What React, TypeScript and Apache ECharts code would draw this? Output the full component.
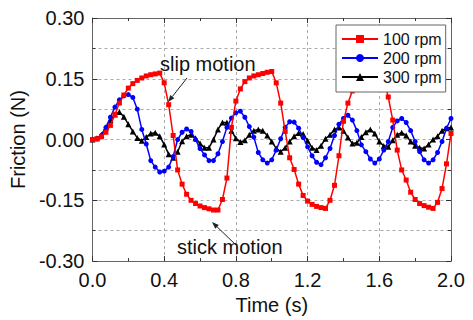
import React, { useEffect, useRef } from "react";
import * as echarts from "echarts";

const STEP = 0.025;
const SERIES_NAMES = ["100 rpm", "200 rpm", "300 rpm"];
const X_TICKS = ["0.0", "0.4", "0.8", "1.2", "1.6", "2.0"];
const Y_TICKS = ["-0.30", "-0.15", "0.00", "0.15", "0.30"];

const RPM100 = [
  0.0, 0.002, 0.007, 0.018, 0.035, 0.062, 0.09, 0.11, 0.127, 0.138, 0.146, 0.152, 0.157, 0.16, 0.162, 0.164,
  0.14, 0.086, 0.01, -0.075, -0.11, -0.135, -0.15, -0.158, -0.164, -0.168, -0.171, -0.174, -0.174, -0.148,
  -0.095, 0.03, 0.095, 0.125, 0.143, 0.152, 0.157, 0.16, 0.163, 0.166, 0.168, 0.14, 0.09, 0.02, -0.045,
  -0.074, -0.11, -0.138, -0.152, -0.16, -0.165, -0.168, -0.17, -0.15, -0.113, -0.04, 0.045, 0.09, 0.12,
  0.138, 0.148, 0.155, 0.16, 0.163, 0.166, 0.15, 0.105, 0.048, -0.026, -0.075, -0.1, -0.13, -0.148, -0.158,
  -0.163, -0.167, -0.17, -0.155, -0.121, -0.06, 0.015,
];
const RPM200 = [
  0.0, 0.002, 0.01, 0.03, 0.055, 0.08, 0.098, 0.108, 0.111, 0.104, 0.075, 0.025, -0.011, -0.052, -0.068,
  -0.08, -0.078, -0.068, -0.042, 0.0, 0.018, 0.026, 0.02, 0.0, -0.022, -0.038, -0.052, -0.052, -0.035,
  -0.005, 0.03, 0.053, 0.066, 0.07, 0.055, 0.032, 0.006, -0.032, -0.05, -0.058, -0.05, -0.026, 0.002, 0.03,
  0.044, 0.043, 0.028, 0.005, -0.018, -0.04, -0.056, -0.062, -0.045, -0.022, 0.01, 0.038, 0.052, 0.06,
  0.048, 0.022, -0.013, -0.03, -0.048, -0.058, -0.048, -0.026, -0.005, 0.03, 0.046, 0.052, 0.042, 0.022,
  -0.005, -0.03, -0.05, -0.058, -0.05, -0.032, -0.005, 0.028, 0.052,
];
const RPM300 = [
  0.0, 0.003, 0.012, 0.03, 0.048, 0.062, 0.068, 0.056, 0.038, 0.02, 0.004, -0.003, 0.006, 0.015, 0.017,
  0.008, -0.012, -0.036, -0.045, -0.03, -0.004, 0.008, 0.012, 0.003, -0.01, -0.02, -0.02, 0.0, 0.025, 0.042,
  0.042, 0.022, 0.003, -0.006, -0.002, 0.012, 0.022, 0.025, 0.022, 0.01, -0.005, -0.022, -0.03, -0.02,
  -0.005, 0.008, 0.016, 0.014, -0.003, -0.02, -0.026, -0.015, 0.002, 0.012, 0.025, 0.03, 0.022, 0.005,
  -0.01, -0.008, 0.006, 0.018, 0.025, 0.015, -0.005, -0.016, -0.018, -0.002, 0.012, 0.017, 0.01, -0.005,
  -0.015, -0.02, -0.022, -0.012, 0.0, 0.008, 0.022, 0.028, 0.03,
];

const COLORS = ["#ff0000", "#0000ff", "#000000"];
const SYMBOLS = ["rect", "circle", "triangle"];
const SYMBOL_SIZES = [5, 5, 6];

const pairs = (vals: number[]) => vals.map((v, i) => [+(i * STEP).toFixed(3), v]);

const FONT = "'Liberation Sans', Arial, sans-serif";
const AXIS_COLOR = "#666";
const TICK_COLOR = "#333";

export default function App() {
  const ref = useRef<HTMLDivElement>(null);
  useEffect(() => {
    if (!ref.current) return;
    const chart = echarts.init(ref.current, null, { renderer: "svg" });
    const data = [RPM100, RPM200, RPM300];
    const commonX = {
      type: "value",
      min: 0,
      max: 2.0,
      interval: 0.4,
      axisLine: { show: true, onZero: false, lineStyle: { color: AXIS_COLOR, width: 1 } },
      axisTick: { show: true, inside: true, length: 5, lineStyle: { color: TICK_COLOR } },
      minorTick: { show: true, splitNumber: 2, length: 3, lineStyle: { color: TICK_COLOR } },
    };
    const commonY = {
      type: "value",
      min: -0.3,
      max: 0.3,
      interval: 0.15,
      axisLine: { show: true, onZero: false, lineStyle: { color: AXIS_COLOR, width: 1 } },
      axisTick: { show: true, inside: true, length: 5, lineStyle: { color: TICK_COLOR } },
      minorTick: { show: true, splitNumber: 2, length: 3, lineStyle: { color: TICK_COLOR } },
    };
    const arrow = (x1: number, y1: number, x2: number, y2: number) => {
      const dx = x2 - x1, dy = y2 - y1;
      const L = Math.hypot(dx, dy);
      const ux = dx / L, uy = dy / L;
      const hl = 7, hw = 2.6;
      const bx = x2 - ux * hl, by = y2 - uy * hl;
      return [
        { type: "line", z: 20, shape: { x1, y1, x2: bx, y2: by }, style: { stroke: "#222", lineWidth: 1 } },
        {
          type: "polygon",
          z: 20,
          shape: { points: [[x2, y2], [bx - uy * hw, by + ux * hw], [bx + uy * hw, by - ux * hw]] },
          style: { fill: "#222" },
        },
      ];
    };
    chart.setOption({
      animation: false,
      textStyle: { fontFamily: FONT },
      grid: { left: 89, right: 22, top: 18, bottom: 47, containLabel: false },
      legend: {
        orient: "vertical",
        left: 336,
        top: 25,
        z: 10,
        padding: [6, 4, 7, 5],
        itemGap: 3,
        itemWidth: 36,
        itemHeight: 10,
        borderColor: "#666",
        borderWidth: 1,
        backgroundColor: "#fff",
        textStyle: { fontFamily: FONT, fontSize: 16, color: "#111" },
        data: SERIES_NAMES,
      },
      xAxis: [
        {
          ...commonX,
          position: "bottom",
          name: "Time (s)",
          nameLocation: "middle",
          nameGap: 22,
          nameTextStyle: { fontFamily: FONT, fontSize: 20, color: "#111" },
          axisLabel: {
            show: true,
            margin: 9,
            fontFamily: FONT,
            fontSize: 20,
            color: "#111",
            formatter: (v: number) => X_TICKS.find((s) => Math.abs(parseFloat(s) - v) < 1e-6) ?? "",
          },
          splitLine: { show: true, lineStyle: { color: "#aaa", type: [3, 3], width: 1 } },
          minorSplitLine: { show: false },
        },
        {
          ...commonX,
          position: "top",
          axisLabel: { show: false },
          splitLine: { show: false },
        },
      ],
      yAxis: [
        {
          ...commonY,
          position: "left",
          name: "Friction (N)",
          nameLocation: "middle",
          nameGap: 51,
          nameTextStyle: { fontFamily: FONT, fontSize: 20, color: "#111" },
          axisLabel: {
            show: true,
            margin: 8,
            fontFamily: FONT,
            fontSize: 20,
            color: "#111",
            formatter: (v: number) => Y_TICKS.find((s) => Math.abs(parseFloat(s) - v) < 1e-6) ?? "",
          },
          splitLine: { show: true, lineStyle: { color: "#aaa", type: [3, 3], width: 1 } },
          minorSplitLine: { show: true, lineStyle: { color: "#aaa", type: [3, 3], width: 1 } },
        },
        {
          ...commonY,
          position: "right",
          axisLabel: { show: false },
          splitLine: { show: false },
        },
      ],
      series: SERIES_NAMES.map((name, k) => ({
        name,
        type: "line",
        xAxisIndex: 0,
        yAxisIndex: 0,
        data: pairs(data[k]),
        symbol: SYMBOLS[k],
        symbolSize: SYMBOL_SIZES[k],
        showAllSymbol: true,
        color: COLORS[k],
        lineStyle: { color: COLORS[k], width: 1.5 },
        itemStyle: { color: COLORS[k] },
        z: 4 - k,
      })),
      graphic: [
        {
          type: "text",
          left: 160,
          top: 54,
          z: 20,
          style: { text: "slip motion", fontFamily: FONT, fontSize: 20, fill: "#111" },
        },
        ...arrow(187, 78, 168, 102),
        {
          type: "text",
          left: 177,
          top: 237,
          z: 20,
          style: { text: "stick motion", fontFamily: FONT, fontSize: 20, fill: "#111" },
        },
        ...arrow(236, 245, 212, 222),
      ],
    });
    return () => chart.dispose();
  }, []);
  return (
    <div
      ref={ref}
      style={{ position: "fixed", left: 0, top: 0, width: 473, height: 320, background: "#fff" }}
    />
  );
}
